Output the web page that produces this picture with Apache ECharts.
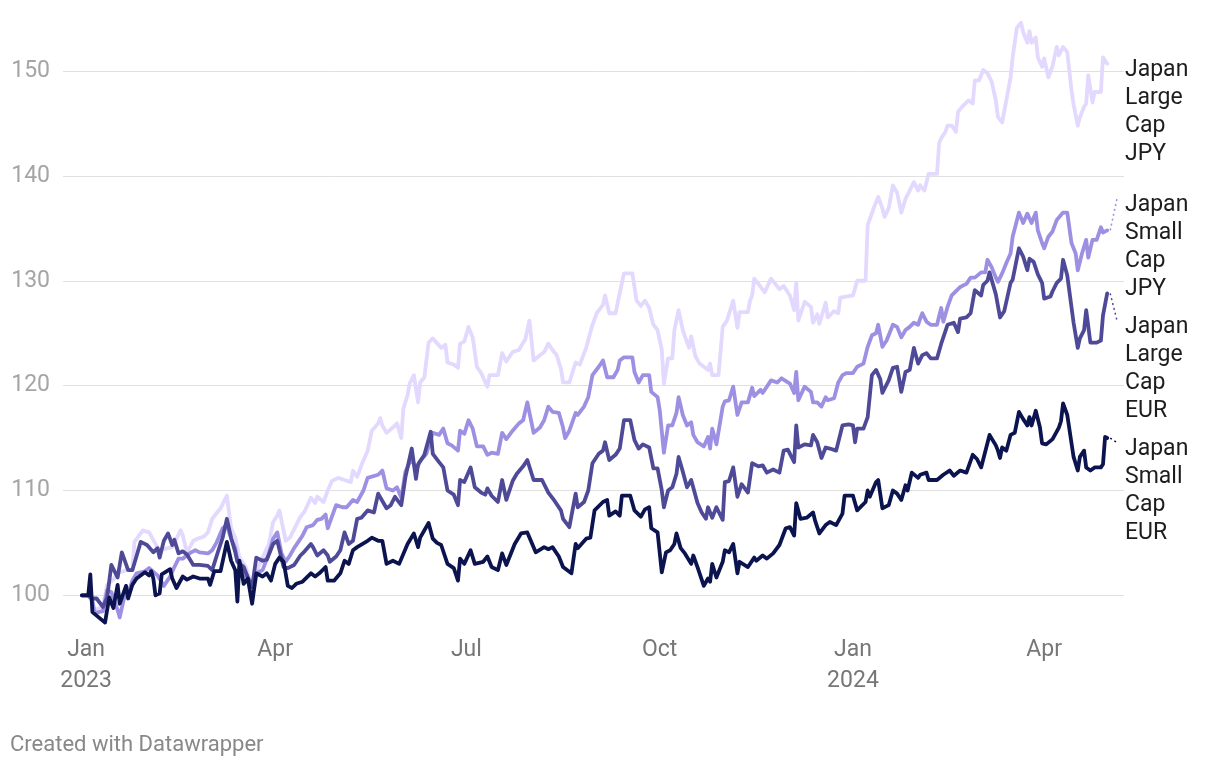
<!DOCTYPE html>
<html><head><meta charset="utf-8">
<script src="https://cdn.jsdelivr.net/npm/echarts@6/dist/echarts.min.js"></script>
<style>html,body{margin:0;padding:0;background:#fff;}#chart{width:1220px;height:768px;}</style>
</head><body><div id="chart"></div>
<script>
// x values are days since 2023-01-01
const seriesNames = ['Japan Large Cap JPY', 'Japan Small Cap JPY', 'Japan Large Cap EUR', 'Japan Small Cap EUR'];
const seriesColors = ['#e3d8fe', '#9d90e3', '#4f4a97', '#0b144f'];
const xTickDays = [0, 90, 181, 273, 365, 456];
const xTickLabels = ['Jan\n2023', 'Apr', 'Jul', 'Oct', 'Jan\n2024', 'Apr'];
const footerText = 'Created with Datawrapper';

const largeCapJpy = [[-2,100],[1,100],[3,99.4],[4,98.6],[8,98.9],[10,101.0],[13,101.5],[15,102.1],[19,102.4],[22,102.4],[23,105.1],[27,106.2],[30,106.0],[33,104.9],[35,104.3],[39,104.5],[41,104.6],[45,106.2],[46,105.7],[48,104.1],[51,105.2],[53,105.4],[56,105.6],[58,106.0],[60,107.3],[64,108.3],[67,109.5],[69,106.4],[71,105.5],[73,103.6],[76,102.7],[78,101.4],[80,100.7],[82,102.7],[84,103.6],[87,104.9],[89,107.0],[91,107.6],[92,108.1],[95,105.2],[97,105.5],[99,106.3],[102,107.5],[104,108.0],[107,109.3],[109,108.8],[110,109.4],[113,108.9],[115,110.0],[117,110.9],[120,111.2],[123,111.0],[126,110.8],[127,111.9],[129,111.3],[131,112.4],[134,113.8],[136,115.7],[139,116.4],[140,116.9],[141,116.2],[143,115.5],[146,116.0],[148,116.4],[150,115.0],[151,117.8],[153,119.1],[154,120.2],[156,121.0],[158,118.4],[159,120.3],[161,120.8],[163,124.1],[165,124.5],[169,123.6],[171,123.9],[172,122.2],[175,122.0],[177,121.7],[178,124.0],[180,124.2],[182,125.6],[184,124.6],[186,121.8],[188,121.2],[191,119.9],[192,121.0],[196,121.0],[198,123.1],[200,122.3],[203,123.2],[206,123.4],[208,124.1],[209,124.4],[211,126.2],[213,122.4],[216,122.9],[218,123.2],[220,124.0],[222,123.4],[224,122.9],[226,121.6],[227,120.3],[230,120.3],[233,122.2],[235,122.0],[238,123.6],[241,125.8],[243,126.9],[246,127.7],[247,128.6],[249,126.9],[252,126.9],[253,127.9],[256,130.7],[260,130.7],[262,128.1],[264,127.6],[266,128.1],[268,127.4],[270,125.8],[272,125.3],[274,123.4],[275,120.2],[277,122.6],[279,122.6],[280,125.3],[282,127.2],[284,125.3],[285,124.7],[287,123.6],[288,124.7],[290,122.8],[292,122.1],[296,121.5],[297,122.1],[298,121.0],[301,121.0],[303,125.6],[305,126.2],[308,128.1],[310,125.5],[311,127.0],[315,127.0],[316,128.1],[317,128.6],[318,130.2],[320,129.7],[323,128.9],[326,130.2],[328,129.7],[330,129.2],[332,129.5],[335,128.6],[337,127.2],[338,129.8],[339,126.2],[342,128.0],[345,127.5],[346,126.0],[348,126.8],[349,125.9],[352,127.9],[353,126.5],[356,127.1],[358,126.9],[359,128.4],[365,128.6],[367,130.0],[371,130.0],[372,135.3],[375,137.0],[377,138.0],[379,136.9],[380,136.1],[382,136.9],[384,139.1],[386,138.4],[388,136.5],[390,137.8],[392,138.6],[394,139.4],[396,138.6],[397,139.1],[399,138.6],[401,140.2],[405,140.2],[406,143.1],[407,143.6],[409,144.2],[410,144.8],[412,144.8],[414,144.2],[415,146.1],[417,146.6],[420,147.2],[422,146.9],[423,149.1],[425,149.1],[427,150.1],[429,149.8],[431,149.0],[433,147.2],[434,145.6],[436,145.1],[438,147.2],[440,149.4],[441,151.3],[443,154.1],[445,154.6],[446,153.7],[448,152.7],[449,153.8],[450,152.7],[452,153.2],[453,151.3],[455,150.4],[456,151.2],[458,149.4],[460,150.5],[462,152.3],[463,151.5],[465,152.3],[467,151.8],[469,148.2],[470,146.8],[472,144.8],[473,145.6],[475,146.6],[476,146.9],[477,149.6],[479,147.0],[480,148.0],[483,148.0],[484,151.3],[486,150.7]];

const smallCapJpy = [[-2,100],[1,100],[3,99.5],[4,98.3],[8,98.5],[10,100.5],[12,100.3],[15,98.6],[16,97.9],[18,99.7],[20,100.2],[22,101.4],[24,102.1],[28,102.3],[30,102.6],[34,101.9],[37,100.9],[40,101.8],[42,102.7],[44,103.5],[46,103.5],[50,104.1],[52,104.3],[54,104.1],[58,104.0],[60,104.3],[62,105.0],[65,106.4],[67,106.7],[69,105.4],[71,104.5],[72,103.3],[75,102.4],[78,100.8],[80,101.6],[82,102.2],[84,102.4],[87,104.0],[89,105.4],[91,106.0],[93,104.0],[95,103.2],[97,103.8],[99,104.5],[103,105.7],[105,106.5],[108,106.7],[110,107.2],[112,107.3],[114,107.7],[115,106.4],[117,107.5],[119,108.6],[122,108.4],[124,108.4],[127,109.1],[129,108.9],[132,110.0],[134,111.2],[139,111.5],[141,111.9],[143,110.2],[146,110.0],[148,110.3],[150,109.3],[152,111.8],[155,113.1],[157,111.9],[159,112.8],[162,113.5],[165,115.5],[168,115.3],[170,115.9],[172,114.5],[174,114.3],[177,113.8],[178,115.7],[180,115.4],[182,116.7],[184,115.9],[186,114.2],[189,114.2],[191,113.4],[193,113.6],[196,113.5],[198,115.5],[200,114.9],[203,115.7],[206,116.4],[208,116.7],[210,118.4],[213,115.5],[216,116.0],[218,116.7],[220,118.0],[222,117.5],[225,117.4],[227,116.0],[228,115.0],[230,115.7],[233,117.4],[234,117.2],[237,118.0],[239,118.9],[241,121.0],[244,121.8],[246,122.4],[248,120.8],[251,120.8],[253,121.5],[254,122.4],[256,122.7],[260,122.7],[261,121.3],[263,120.3],[265,121.0],[268,121.0],[269,119.4],[272,118.9],[273,117.7],[275,113.6],[277,116.2],[279,116.2],[281,117.4],[282,118.9],[284,117.2],[286,116.2],[288,116.5],[289,115.3],[291,114.6],[294,114.2],[296,115.1],[297,114.0],[298,115.9],[300,114.4],[303,118.0],[304,118.5],[306,118.6],[308,119.9],[310,117.2],[312,118.4],[315,118.4],[317,119.8],[318,119.0],[321,119.6],[322,119.3],[326,120.5],[329,120.3],[331,120.7],[335,120.2],[337,119.3],[338,121.3],[339,118.6],[342,119.9],[345,119.4],[346,118.4],[348,118.4],[350,118.0],[352,118.9],[353,118.6],[356,118.8],[358,120.3],[360,121.0],[362,121.2],[365,121.2],[367,121.8],[370,122.1],[372,123.7],[374,124.8],[376,125.0],[377,125.8],[379,123.7],[381,124.3],[384,125.8],[386,125.6],[388,124.6],[390,125.3],[392,125.6],[394,126.0],[396,125.8],[397,126.4],[398,126.9],[400,126.1],[402,125.8],[405,125.8],[407,127.4],[408,126.1],[410,127.5],[412,128.6],[415,129.2],[416,129.4],[419,129.7],[421,130.3],[423,130.3],[426,130.8],[428,130.8],[429,132.0],[431,131.3],[433,130.3],[434,129.9],[436,130.7],[438,131.7],[440,132.6],[441,134.2],[444,136.5],[446,135.5],[448,136.4],[450,135.5],[452,136.5],[453,134.8],[455,133.6],[456,133.1],[458,134.2],[460,134.7],[462,135.8],[465,136.5],[467,136.5],[469,133.6],[471,132.6],[472,131.0],[474,132.6],[476,133.9],[477,132.2],[479,133.9],[481,133.9],[483,135.1],[484,134.6],[486,134.8]];

const largeCapEur = [[-2,100],[1,100],[3,99.7],[5,99.7],[8,98.9],[10,99.8],[12,102.9],[15,101.7],[17,104.1],[20,102.4],[22,102.4],[26,105.1],[29,104.8],[32,104.1],[34,104.5],[35,103.6],[37,105.2],[39,105.9],[41,104.8],[42,105.3],[44,104.0],[46,104.2],[48,103.9],[51,102.9],[54,102.9],[58,102.8],[60,102.4],[63,104.3],[65,105.5],[67,107.3],[69,105.5],[71,104.1],[72,103.2],[75,102.7],[77,101.7],[79,100.8],[81,103.6],[84,103.3],[86,103.4],[89,104.9],[91,105.2],[94,102.7],[96,102.6],[99,102.9],[102,103.8],[104,104.2],[107,104.9],[108,104.6],[110,103.8],[113,104.3],[115,103.8],[116,103.2],[119,103.7],[121,104.3],[123,106.0],[125,104.9],[127,105.2],[129,107.3],[131,107.4],[134,108.1],[137,107.9],[139,109.7],[141,109.0],[143,108.3],[145,108.6],[147,109.4],[150,108.6],[152,111.3],[155,114.0],[157,111.1],[158,112.5],[161,113.4],[164,115.6],[165,113.5],[168,112.7],[170,112.2],[172,110.0],[175,109.6],[177,108.6],[178,111.0],[180,110.8],[183,112.2],[185,110.3],[188,109.8],[190,109.6],[191,110.2],[193,109.5],[196,108.9],[198,111.0],[200,109.1],[203,110.9],[205,111.6],[208,112.3],[210,112.9],[213,111.0],[217,111.0],[220,109.8],[223,109.0],[226,108.1],[227,107.3],[230,106.5],[233,109.7],[234,108.4],[237,108.9],[239,110.0],[241,112.6],[244,113.5],[246,113.8],[247,114.6],[249,112.9],[252,113.4],[254,114.0],[256,116.7],[259,116.7],[261,114.8],[263,114.0],[265,114.4],[268,114.1],[270,112.1],[272,112.1],[274,110.0],[275,108.4],[277,110.0],[279,110.3],[281,111.6],[282,113.2],[284,111.8],[286,110.3],[288,111.0],[291,108.8],[293,107.9],[295,107.3],[296,108.4],[298,107.4],[300,108.4],[303,107.2],[304,110.8],[306,110.9],[308,112.2],[310,109.4],[312,110.6],[315,109.8],[317,112.6],[320,112.3],[322,112.4],[324,111.7],[327,112.0],[330,111.7],[332,113.8],[334,113.9],[337,112.7],[338,116.2],[339,114.1],[342,114.4],[345,114.3],[346,115.3],[348,114.6],[350,113.1],[352,114.1],[354,114.0],[357,113.8],[360,116.2],[363,116.3],[365,116.2],[366,114.6],[367,115.9],[370,115.9],[372,117.0],[374,121.0],[376,121.5],[378,120.6],[379,119.3],[382,120.5],[384,121.7],[386,121.8],[388,119.4],[390,121.3],[392,121.5],[394,123.6],[396,122.1],[398,122.9],[400,123.1],[402,122.6],[405,122.6],[407,124.0],[408,124.6],[410,125.8],[413,126.0],[415,125.1],[416,126.4],[419,126.5],[421,126.9],[423,129.1],[426,128.6],[427,129.6],[429,130.0],[430,130.8],[433,128.7],[435,126.5],[437,127.1],[440,129.8],[441,130.1],[444,133.1],[446,132.3],[448,131.0],[449,132.1],[451,131.8],[453,130.6],[455,129.8],[456,128.3],[459,128.5],[460,129.0],[462,129.8],[464,130.2],[465,132.0],[467,130.5],[470,126.0],[472,123.6],[473,124.5],[475,125.3],[476,127.2],[478,124.1],[481,124.1],[483,124.3],[484,126.7],[486,128.8]];

const smallCapEur = [[-2,100],[1,100],[2,102.0],[3,98.4],[6,97.9],[9,97.4],[11,99.8],[13,98.8],[15,101.0],[16,99.2],[19,100.9],[20,99.7],[22,101.0],[24,101.6],[28,102.2],[30,101.9],[31,102.3],[32,101.6],[33,100.0],[35,100.2],[36,102.0],[40,102.5],[41,101.6],[43,100.7],[46,101.8],[48,101.5],[51,101.8],[54,101.6],[58,101.6],[59,101.0],[61,102.3],[64,102.3],[67,105.1],[69,103.3],[71,102.4],[72,99.4],[73,103.3],[75,101.1],[77,101.6],[79,99.2],[81,102.1],[84,101.8],[86,102.1],[88,101.4],[90,103.0],[92,103.6],[94,103.2],[96,100.9],[98,100.7],[100,101.1],[103,101.3],[107,102.1],[109,101.8],[111,102.1],[114,102.7],[115,101.4],[118,101.4],[121,102.1],[123,103.3],[125,103.0],[127,104.3],[129,104.6],[134,105.2],[136,105.5],[139,105.2],[141,105.2],[143,103.0],[146,103.3],[149,103.0],[153,104.9],[156,105.9],[158,104.6],[159,105.5],[163,106.9],[165,105.4],[167,105.0],[169,104.8],[172,103.0],[175,102.6],[177,101.4],[178,103.5],[180,103.0],[183,104.3],[185,103.0],[189,103.2],[191,103.7],[193,102.7],[196,102.4],[198,104.0],[200,102.9],[204,104.9],[207,105.9],[210,106.0],[214,104.1],[218,104.6],[220,104.4],[222,104.6],[225,103.7],[227,102.7],[231,102.1],[233,104.9],[234,104.5],[238,105.4],[240,105.5],[242,108.1],[246,108.9],[248,109.1],[249,107.6],[252,108.0],[254,107.6],[255,109.5],[259,109.5],[261,108.1],[264,107.5],[266,108.2],[268,108.4],[269,106.4],[272,106.0],[274,102.2],[276,104.1],[278,104.3],[280,104.9],[281,105.9],[283,104.5],[285,104.0],[288,103.0],[289,103.8],[291,102.7],[294,100.9],[296,101.6],[297,101.3],[298,103.0],[300,101.7],[303,103.2],[304,104.3],[306,104.1],[308,104.9],[310,102.1],[311,103.2],[315,102.7],[318,103.6],[319,103.3],[322,103.8],[324,103.5],[327,104.0],[330,104.8],[333,106.4],[335,106.5],[337,105.7],[338,108.8],[340,107.3],[343,107.4],[346,107.9],[347,107.1],[349,105.9],[352,106.7],[354,107.0],[357,106.7],[360,107.8],[361,109.5],[365,109.5],[367,108.1],[369,108.5],[371,108.9],[372,110.0],[373,109.4],[376,110.8],[377,111.0],[379,108.3],[382,108.6],[384,110.0],[386,109.7],[388,109.1],[390,110.5],[391,110.0],[393,111.7],[396,111.2],[397,111.5],[400,111.7],[401,111.0],[405,111.0],[408,111.5],[411,111.9],[413,111.4],[416,111.9],[419,111.7],[422,113.4],[424,113.0],[426,112.2],[430,115.3],[433,114.3],[434,113.8],[435,113.1],[436,114.1],[438,113.8],[440,115.3],[442,115.5],[444,117.5],[446,116.8],[448,116.2],[449,117.0],[450,116.2],[452,117.6],[454,116.0],[455,114.5],[457,114.4],[460,114.9],[463,116.0],[464,116.6],[465,118.3],[467,117.2],[470,113.2],[472,111.9],[473,113.2],[475,113.8],[476,112.2],[478,111.9],[480,112.2],[483,112.2],[484,112.5],[485,115.1],[486,115.0]];

const allSeries = [largeCapJpy, smallCapJpy, largeCapEur, smallCapEur];

const FONT = 'Roboto, "Noto Sans", sans-serif';
const chart = echarts.init(document.getElementById('chart'), null, {renderer: 'canvas'});
const X_MIN = -11, X_MAX = 494;

chart.setOption({
  animation: false,
  backgroundColor: '#ffffff',
  grid: {left: 63, right: 96, top: 18.6, bottom: 141.2, containLabel: false, outerBoundsMode: 'none'},
  xAxis: {
    type: 'value', min: X_MIN, max: X_MAX,
    axisLine: {show: false}, axisTick: {show: false}, splitLine: {show: false},
    axisLabel: {
      customValues: xTickDays,
      formatter: v => { const i = xTickDays.indexOf(v); return i >= 0 ? xTickLabels[i] : ''; },
      color: '#777777', fontSize: 23, lineHeight: 31, margin: 8, fontFamily: FONT
    }
  },
  yAxis: {
    type: 'value', min: 97, max: 155,
    axisLine: {show: false}, axisTick: {show: false},
    splitLine: {show: true, showMinLine: false, showMaxLine: false, lineStyle: {color: '#e0e0e0', width: 1}},
    axisLabel: {showMinLabel: false, showMaxLabel: false, color: '#a5a5a5', fontSize: 23, margin: 13, fontFamily: FONT}
  },
  series: allSeries.map((d, i) => ({
    name: seriesNames[i], type: 'line', data: d, showSymbol: false, symbol: 'none',
    lineStyle: {color: seriesColors[i], width: 3.8, join: 'round', cap: 'round'},
    itemStyle: {color: seriesColors[i]}, z: 2 + i
  }))
});

// end labels with overlap resolution
const labelX = chart.convertToPixel({gridIndex: 0}, [X_MAX, 100])[0] + 1;
const ends = allSeries.map(d => chart.convertToPixel({gridIndex: 0}, d[d.length - 1]));
const ys = ends.map(p => p[1] + 5);
const minSep = 122;
for (let it = 0; it < 300; it++) {
  const order = ys.map((y, i) => i).sort((a, b) => ys[a] - ys[b]);
  for (let k = 0; k < order.length - 1; k++) {
    const a = order[k], b = order[k + 1];
    const gap = ys[b] - ys[a];
    if (gap < minSep) { const s = (minSep - gap) / 2; ys[a] -= s; ys[b] += s; }
  }
}
const graphics = [];
seriesNames.forEach((name, i) => {
  graphics.push({
    type: 'text', x: labelX, y: ys[i] - 12, z: 10,
    style: {text: name.split(' ').join('\n'), fontSize: 23, lineHeight: 28, fontFamily: FONT,
      fill: '#1d1d1d', align: 'left', verticalAlign: 'top', textAlign: 'left', textVerticalAlign: 'top'}
  });
  const ty = ys[i] - 5;
  if (Math.abs(ty - ends[i][1]) > 3) {
    graphics.push({
      type: 'line', z: 9,
      shape: {x1: ends[i][0] + 3, y1: ends[i][1], x2: labelX - 8, y2: ty},
      style: {stroke: seriesColors[i], lineWidth: 1.5, lineDash: [2, 3]}
    });
  }
});
graphics.push({
  type: 'text', x: 10, y: 745, z: 10,
  style: {text: footerText, fontSize: 22, fontFamily: FONT, fill: '#888888',
    align: 'left', verticalAlign: 'middle', textAlign: 'left', textVerticalAlign: 'middle'}
});
chart.setOption({graphic: graphics});
</script>
</body></html>
